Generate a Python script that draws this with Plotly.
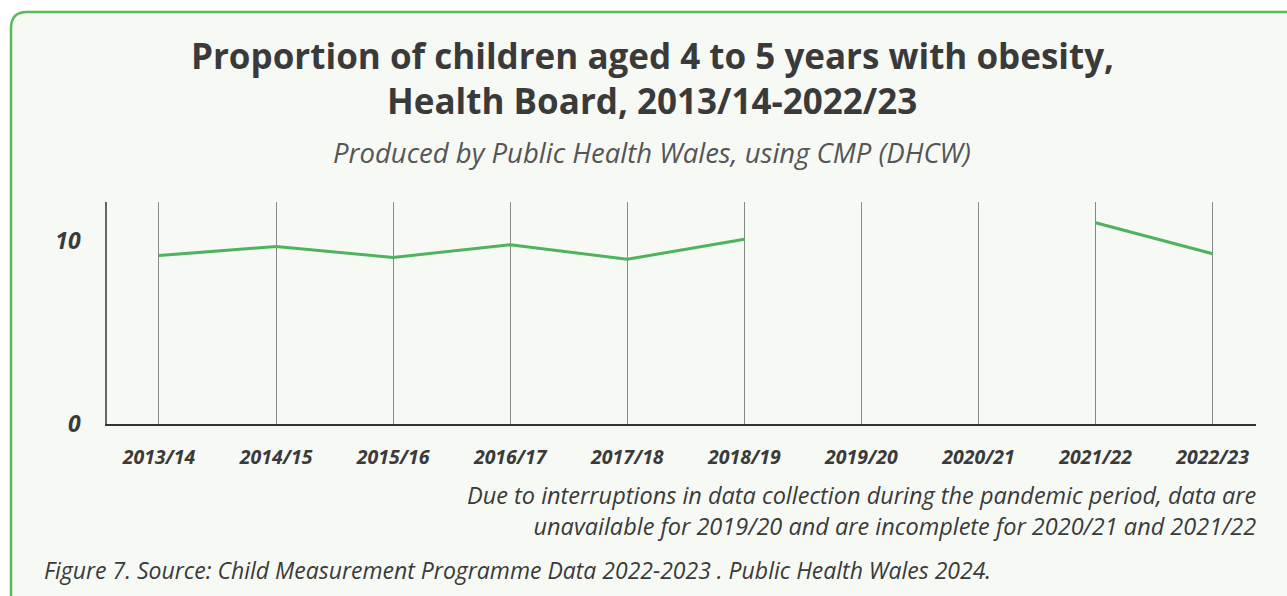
import plotly.graph_objects as go

# School years and obesity prevalence (%) among children aged 4 to 5
years = ["2013/14", "2014/15", "2015/16", "2016/17", "2017/18",
         "2018/19", "2019/20", "2020/21", "2021/22", "2022/23"]
obesity_pct = [9.2, 9.7, 9.1, 9.8, 9.0, 10.1, None, None, 11.0, 9.3]
y_ticks = [0, 10]

W, H = 1287, 596
L, R, T, B = 107, 1256, 202, 424  # plot area in pixels

def px(x):
    return (x - L) / (R - L)

def py(y):
    return (B - y) / (B - T)

FONT = "Open Sans"
DARK = "#3a3a3a"
GREEN = "#4db35c"

fig = go.Figure()
fig.add_trace(go.Scatter(
    x=years, y=obesity_pct, mode="lines",
    line=dict(color=GREEN, width=3), connectgaps=False,
    hoverinfo="x+y", showlegend=False,
))

# rounded card behind everything
rx, ry = 16 / (R - L), 16 / (B - T)
x0, y0 = px(11), py(12)
x1, y1 = px(W + 30), py(H + 30)
card = (f"M {x0},{y1} L {x0},{y0 - ry} Q {x0},{y0} {x0 + rx},{y0} "
        f"L {x1},{y0} L {x1},{y1} Z")
shapes = [dict(type="path", path=card, xref="paper", yref="paper",
               fillcolor="#f7f9f5", line=dict(color="#5cb85c", width=2.5),
               layer="below")]

ann = []
def text(t, x, y, size, xanchor="center", weight="normal", style="normal", color=DARK):
    ann.append(dict(text=t, x=px(x), y=py(y), xref="paper", yref="paper",
                    xanchor=xanchor, yanchor="middle", showarrow=False,
                    align=xanchor if xanchor != "center" else "center",
                    font=dict(family=FONT, size=size, color=color,
                              weight=weight, style=style)))

text("Proportion of children aged 4 to 5 years with obesity,", 652, 55, 35, weight="bold")
text("Health Board, 2013/14-2022/23", 652, 100, 35, weight="bold")
text("Produced by Public Health Wales, using CMP (DHCW)", 652, 152, 27.5, style="italic", color="#555555")
text("Due to interruptions in data collection during the pandemic period, data are<br>"
     "unavailable for 2019/20 and are incomplete for 2020/21 and 2021/22",
     1258, 510, 23.5, xanchor="right", style="italic")
text("Figure 7. Source: Child Measurement Programme Data 2022-2023 . Public Health Wales 2024.",
     42, 570, 23, xanchor="left", style="italic")

fig.update_layout(
    width=W, height=H,
    margin=dict(l=L, r=W - R, t=T, b=H - B, pad=0),
    paper_bgcolor="white", plot_bgcolor="rgba(0,0,0,0)",
    shapes=shapes, annotations=ann,
    xaxis=dict(
        type="category", categoryorder="array", categoryarray=years,
        range=[-0.444, 9.37], showgrid=True, gridcolor="#8a8a8a", gridwidth=1,
        showline=True, linecolor="#333333", linewidth=2, ticks="",
        ticklabelstandoff=15, zeroline=False,
        tickfont=dict(family=FONT, size=19.5, color=DARK, weight="bold", style="italic"),
    ),
    yaxis=dict(
        range=[0, 12.13], tickvals=y_ticks, showgrid=False, zeroline=False,
        showline=True, linecolor="#666666", linewidth=1.5, ticks="",
        ticklabelstandoff=20,
        tickfont=dict(family=FONT, size=23, color=DARK, weight="bold", style="italic"),
    ),
)

fig.write_html("out.html")
